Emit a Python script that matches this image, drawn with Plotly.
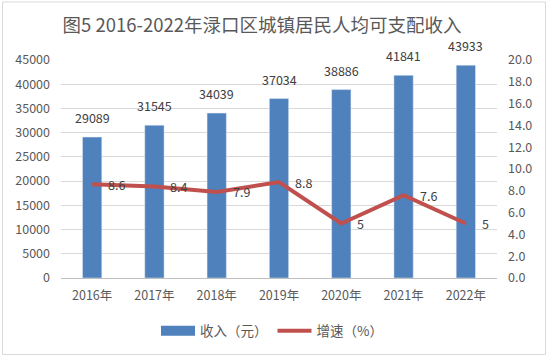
import plotly.graph_objects as go

years = ["2016年", "2017年", "2018年", "2019年", "2020年", "2021年", "2022年"]
income = [29089, 31545, 34039, 37034, 38886, 41841, 43933]
growth = [8.6, 8.4, 7.9, 8.8, 5, 7.6, 5]
left_ticks = [0, 5000, 10000, 15000, 20000, 25000, 30000, 35000, 40000, 45000]
right_ticks = [0, 2, 4, 6, 8, 10, 12, 14, 16, 18, 20]

FONT = "Noto Sans CJK SC"
GRAY = "#595959"
BLUE = "#4F81BD"
RED = "#C0504D"

fig = go.Figure()
fig.add_trace(go.Bar(x=years, y=income, name="收入（元）", marker_color=BLUE,
                     width=0.31, yaxis="y", showlegend=False))
# legend swatch for the bars (wide rectangle as in the reference)
fig.add_trace(go.Scatter(x=[None], y=[None], name="收入（元）", mode="lines",
                         line=dict(color=BLUE, width=10), yaxis="y"))
fig.add_trace(go.Scatter(x=years, y=growth, name="增速（%）", mode="lines",
                         line=dict(color=RED, width=4), yaxis="y2"))

ann = []
for x, v in zip(years, income):
    ann.append(dict(x=x, y=v, xref="x", yref="y", text=str(v), showarrow=False,
                    yanchor="bottom", yshift=8, font=dict(size=12.5, color="#404040", family=FONT)))
for x, v in zip(years, growth):
    ann.append(dict(x=x, y=v, xref="x", yref="y2", text=f"{v:g}", showarrow=False,
                    xanchor="left", xshift=14, yshift=0, font=dict(size=12.5, color="#404040", family=FONT)))

fig.update_layout(
    width=548, height=356,
    margin=dict(l=61, r=51, t=60, b=78, autoexpand=False),
    paper_bgcolor="white", plot_bgcolor="white",
    font=dict(family=FONT, color=GRAY, size=12),
    title=dict(text="图5 2016-2022年渌口区城镇居民人均可支配收入", x=262/548, xanchor="center",
               y=1-26/356, yanchor="middle", font=dict(size=18.5, color=GRAY, family=FONT)),
    xaxis=dict(showgrid=False, showline=True, linecolor="#BFBFBF", linewidth=1, tickangle=0,
               ticks="", tickfont=dict(size=12.5, color=GRAY), ticklabelstandoff=6, automargin=False),
    yaxis=dict(range=[0, 45000], tickvals=left_ticks, tickformat="d", showgrid=True, gridcolor="#D9D9D9",
               zeroline=False, showline=False, tickfont=dict(size=12.5, color=GRAY),
               ticklabelstandoff=10, automargin=False),
    yaxis2=dict(range=[0, 20], tickvals=right_ticks, tickformat=".1f", overlaying="y", side="right",
                showgrid=False, zeroline=False, showline=False, tickfont=dict(size=12.5, color=GRAY),
                ticklabelstandoff=10, automargin=False),
    legend=dict(orientation="h", x=(272-61)/436, xanchor="center",
                y=(278-331)/218, yanchor="middle", font=dict(size=13.5, color=GRAY), itemwidth=34,
                traceorder="normal"),
    bargap=0.69,
    annotations=ann,
    shapes=[dict(type="rect", xref="paper", yref="paper",
                 x0=(2.5-61)/436, x1=(545.5-61)/436, y0=(278-354.5)/218, y1=(278-2)/218,
                 line=dict(color="#D9D9D9", width=1), fillcolor="rgba(0,0,0,0)", layer="below")],
)

fig.write_html("out.html", config={"displayModeBar": False},
               post_script="document.body.style.margin='0';document.body.style.padding='0';")
